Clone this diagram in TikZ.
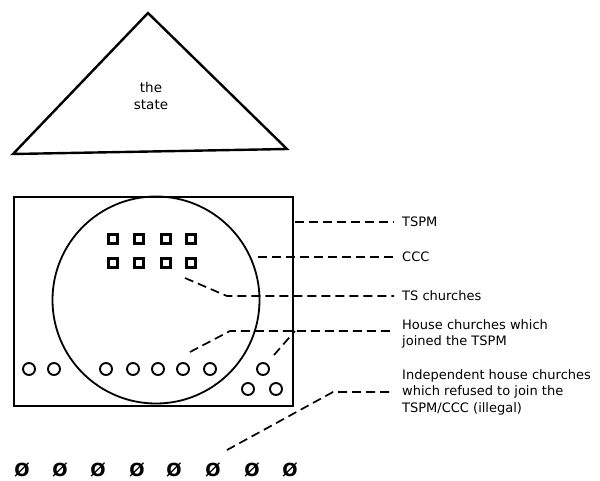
\documentclass[tikz,border=0pt]{standalone}
\usepackage{fontspec}
\setmainfont{DejaVu Sans}
\begin{document}
\begin{tikzpicture}[x=1pt,y=-1pt,
  lbl/.style={anchor=west,inner sep=0pt,font=\fontsize{13}{16.5}\selectfont,align=left},
  dsh/.style={line width=1.7pt,dash pattern=on 9pt off 5pt},
  sq/.style={draw,line width=2.5pt,minimum size=9pt,inner sep=0pt},
  hc/.style={draw,circle,line width=1.9pt,minimum size=12pt,inner sep=0pt},
  nc/.style={inner sep=0pt,font=\bfseries\fontsize{18}{18}\selectfont}]
\useasboundingbox (0,0) rectangle (600,480);
% state
\draw[line width=2.4pt,line join=miter] (148,13) -- (287,149) -- (13,154) -- cycle;
\node[inner sep=0pt,align=center,font=\fontsize{13.5}{17}\selectfont] (state) at (151,96) {the\\state};
% TSPM box and CCC circle
\draw[line width=2.4pt] (14,197) rectangle (293,406);
\node[draw,circle,line width=1.8pt,minimum size=207pt,inner sep=0pt] (ccc) at (156,300) {};
% TS churches squares
\foreach \x [count=\i] in {113,139,166,191}{
  \node[sq] (sa\i) at (\x,239) {};
  \node[sq] (sb\i) at (\x,263) {};
}
% house churches
\foreach \x [count=\i] in {29,54,106,133,158,183,210,263}{
  \node[hc] (h\i) at (\x,369) {};
}
\node[hc] (h9) at (248,389) {};
\node[hc] (h10) at (276,389) {};
% independent
\foreach \x [count=\i] in {22,60,98,137,174,213,252,290}{
  \node[nc] (n\i) at (\x,470) {Ø};
}
% labels
\node[lbl] (lt) at (402,222) {TSPM};
\node[lbl] (lc) at (402,257) {CCC};
\node[lbl] (ls) at (402,296) {TS churches};
\node[lbl,anchor=north west] (lh) at (402,319) {House churches which\\joined the TSPM};
\node[lbl,anchor=north west] (li) at (402,369) {Independent house churches\\which refused to join the\\TSPM/CCC (illegal)};
% connectors
\coordinate (t0) at (295,222);
\coordinate (c0) at (258,257);
\coordinate (s0) at (185,278);
\coordinate (s1) at (227,296);
\coordinate (h0) at (190,352);
\coordinate (hk) at (230,331);
\coordinate (hr) at (274,355);
\coordinate (hj) at (295,331);
\coordinate (i0) at (227,450);
\coordinate (i1) at (333,392);
\draw[dsh] (t0) -- ([xshift=-8pt]lt.west);
\draw[dsh] (c0) -- ([xshift=-6pt]lc.west);
\draw[dsh] (s0) -- (s1) -- ([xshift=-8pt]ls.west);
\draw[dsh] (h0) -- (hk) -- ([xshift=-8pt]lh.north west |- hk);
\draw[dsh] (hr) -- (hj);
\draw[dsh] (i0) -- (i1) -- ([xshift=-12pt]li.west |- i1);
\end{tikzpicture}
\end{document}
